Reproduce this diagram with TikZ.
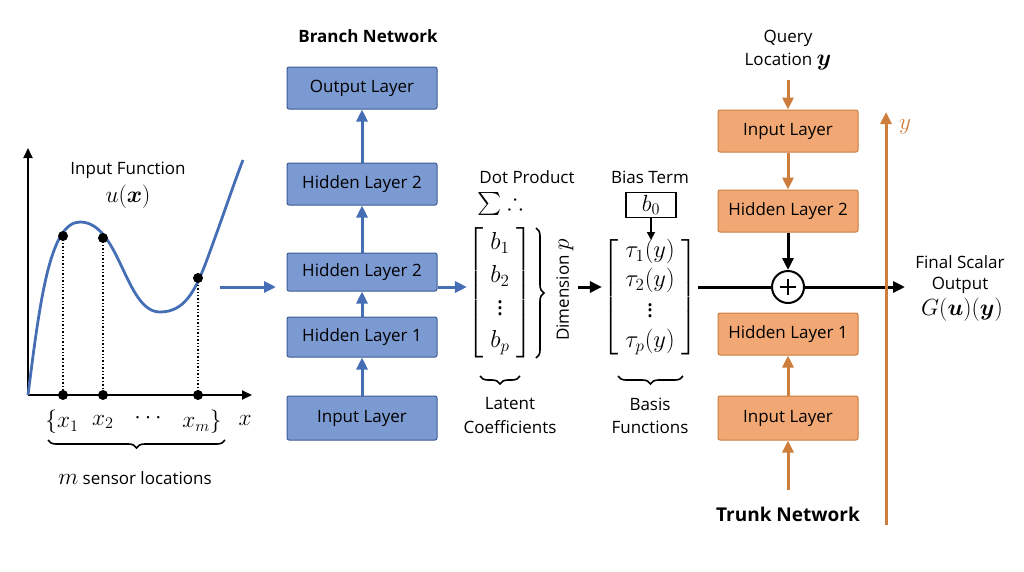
\documentclass[tikz,border=0pt]{standalone}
\usepackage{amsmath,amssymb}
\usepackage{fontspec}
\setmainfont{Open Sans}
\newcommand\mth[1]{\scalebox{1.35}{$#1$}}
\newcommand\mtx[1]{\scalebox{1.42}{$#1$}}
\usetikzlibrary{arrows.meta,decorations.pathreplacing,calc}
\begin{document}
\begin{tikzpicture}[x=1pt,y=-1pt,
  font=\fontsize{17}{20}\selectfont,
  br/.style={draw={rgb,255:red,60;green,90;blue,150},fill={rgb,255:red,124;green,154;blue,210},rounded corners=2,minimum width=150,minimum height=42,line width=1},
  tr/.style={draw={rgb,255:red,205;green,125;blue,60},fill={rgb,255:red,242;green,168;blue,116},rounded corners=2,minimum width=140,minimum height=42,line width=1},
  barr/.style={-{Triangle[length=12,width=11]},line width=3,draw={rgb,255:red,70;green,110;blue,180}},
  oarr/.style={-{Triangle[length=12,width=11]},line width=3,draw={rgb,255:red,205;green,125;blue,60}},
  karr/.style={-{Triangle[length=12,width=11]},line width=3,black},
  brc/.style={decorate,decoration={brace,amplitude=8},line width=1.6}]
\useasboundingbox (0,0) rectangle (1024,571);
% plot
\draw[-{Triangle[length=10,width=9]},line width=2] (28,395) -- (28,148);
\draw[-{Triangle[length=10,width=9]},line width=2] (28,395) -- (252,395);
\draw[line width=2.8,draw={rgb,255:red,70;green,110;blue,180}] (28,395) .. controls (40,300) and (50,222) .. (80,222)
  .. controls (120,222) and (125,312) .. (160,312) .. controls (185,312) and (195,290) .. (205,265) .. controls (220,225) and (235,180) .. (243,160);
\foreach \xx/\yy/\n in {63/236/a,103/238/b,198/278/c}{
  \draw[dotted,line width=1.4] (\xx,\yy) -- (\xx,395);
  \fill (\xx,\yy) circle (5); \fill (\xx,395) circle (5);}
\node at (128,170) {Input Function};
\node at (128,197) {\mth{u(\boldsymbol{x})}};
\node at (62,422) {\mth{\{x_1}};
\node at (103,422) {\mth{x_2}};
\node at (150,418) {\mth{\cdots}};
\node at (202,422) {\mth{x_m\}}};
\node at (245,420) {\mth{x}};
\draw[brc] (225,440) -- (48,440);
\node at (135,478) {\mth{m} sensor locations};
\coordinate (pe) at (220,287);
% branch
\node[font=\fontsize{17}{20}\selectfont\bfseries] at (368,36) {Branch Network};
\node[br] (bo) at (362,88) {Output Layer};
\node[br] (bh2a) at (362,184) {Hidden Layer 2};
\node[br,minimum height=38] (bh2) at (362,272) {Hidden Layer 2};
\node[br,minimum height=40] (bh1) at (362,337) {Hidden Layer 1};
\node[br,minimum height=44] (bi) at (362,418) {Input Layer};
\draw[barr] (pe) -- (276,287);
\draw[barr] (bi) -- (bh1);
\draw[barr] (bh1) -- (bh2);
\draw[barr] (bh2) -- (bh2a);
\draw[barr] (bh2a) -- (bo);
% b vector
\node[inner sep=0] (bv) at (500,293) {\mtx{\left[\begin{array}{c}b_1\\[3pt] b_2\\[1pt] \vdots\\[3pt] b_p\end{array}\right]}};
\draw[barr] (bh2.east|-0,287) -- (bv.west|-0,287);
\node at (527,177) {Dot Product};
\node at (500,204) {\mth{\textstyle\sum\therefore}};
\draw[brc] (536,228) -- (536,358);
\node[rotate=90] at (565,290) {Dimension \mth{p}};
\draw[brc] (520,376) -- (480,376);
\node at (510,404) {Latent};
\node at (510,427) {Coefficients};
% tau vector
\node[inner sep=0] (tv) at (650,297) {\mtx{\left[\begin{array}{c}\tau_1(y)\\ \tau_2(y)\\ \vdots\\[1pt] \tau_p(y)\end{array}\right]}};
\draw[karr] (578,287) -- (tv.west|-0,287);
\node at (650,177) {Bias Term};
\node[draw,line width=1.4,minimum width=50,minimum height=25,inner sep=0] (b0) at (651,205) {\mth{b_0}};
\draw[-{Triangle[length=8,width=8]},line width=1.8] (b0) -- (651,240);
\draw[brc] (683,376) -- (618,376);
\node at (650,404) {Basis};
\node at (650,427) {Functions};
% plus
\node[draw,circle,line width=2,minimum size=32,inner sep=0] (pl) at (788,287) {};
\draw[line width=2] (780,287)--(796,287) (788,279)--(788,295);
\draw[line width=3] (tv.east|-0,287) -- (pl);
\coordinate (fo) at (905,287);
\draw[karr] (pl) -- (fo);
\node at (960,262) {Final Scalar};
\node at (960,285) {Output};
\node at (962,310) {\mth{G(\boldsymbol{u})(\boldsymbol{y})}};
% trunk
\node at (788,38) {Query};
\node (ql) at (788,62) {Location \mth{\boldsymbol{y}}};
\node[tr] (ti) at (788,131) {Input Layer};
\node[tr] (th2) at (788,211) {Hidden Layer 2};
\node[tr] (th1) at (788,334) {Hidden Layer 1};
\node[tr,minimum height=44] (ti2) at (788,418) {Input Layer};
\coordinate (tb) at (788,490);
\draw[oarr] (788,80) -- (ti);
\draw[oarr] (ti) -- (th2);
\draw[karr] (th2) -- (pl);
\draw[oarr] (ti2) -- (th1);
\draw[oarr] (tb) -- (ti2);
\node[font=\fontsize{19}{22}\selectfont\bfseries] at (788,514) {Trunk Network};
\draw[oarr] (886,525) -- (886,112);
\node[text={rgb,255:red,205;green,125;blue,60}] at (905,127) {\mth{y}};
\end{tikzpicture}
\end{document}
